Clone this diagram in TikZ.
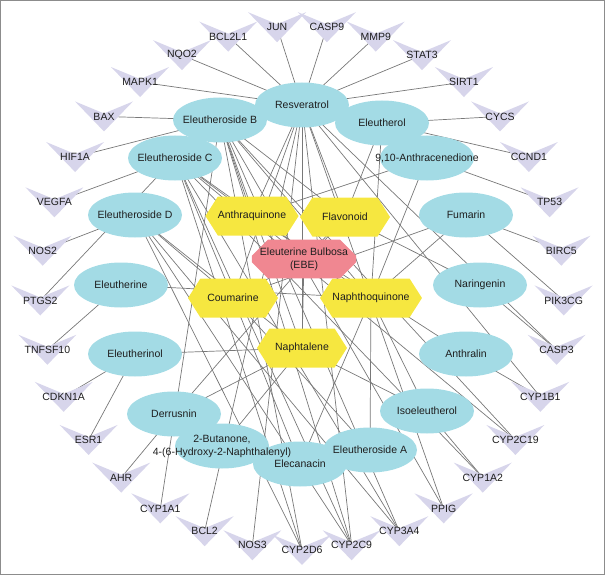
\documentclass[tikz,border=0pt]{standalone}
\usepackage{fontspec}
\setmainfont{Liberation Sans}
\usetikzlibrary{shapes.geometric,shapes.symbols,shapes.misc,calc}
\definecolor{cpd}{RGB}{163,219,229}
\definecolor{cls}{RGB}{246,231,64}
\definecolor{ebe}{RGB}{240,135,145}
\definecolor{tgt}{RGB}{215,213,235}
\definecolor{edgec}{RGB}{120,120,120}
\definecolor{txt}{RGB}{30,30,30}
\definecolor{framec}{RGB}{140,140,140}
\pgfdeclarelayer{bg}
\pgfsetlayers{bg,main}
\tikzset{
  lbl/.style={text=txt, font=\fontsize{10.5}{13}\selectfont, align=center},
  cpdnode/.style={ellipse, fill=cpd, minimum width=94pt, minimum height=45pt, inner sep=0pt,
    label={[lbl, inner sep=0pt]center:#1}},
  clsnode/.style={lbl, signal, signal to=east and west, signal pointer angle=115, fill=cls, minimum width=90pt, minimum height=39pt, inner sep=0pt},
  ebenode/.style={lbl, chamfered rectangle, chamfered rectangle xsep=8pt, chamfered rectangle ysep=8pt, fill=ebe, minimum width=95pt, minimum height=30pt, inner sep=0pt},
  tgtlabel/.style={lbl, inner sep=0pt},
  link/.style={draw=edgec, line width=0.7pt},
}
\begin{document}
\begin{tikzpicture}[x=1pt,y=-1pt]
\useasboundingbox (0,0) rectangle (605,575);
\draw[framec, line width=1pt] (0.5,0.5) rectangle (604.5,574.5);

% targets on the outer ring
\foreach \i/\n in {0/CASP9,1/MMP9,2/STAT3,3/SIRT1,4/CYCS,5/CCND1,6/TP53,7/BIRC5,8/PIK3CG,9/CASP3,10/CYP1B1,11/CYP2C19,12/CYP1A2,13/PPIG,14/CYP3A4,15/CYP2C9,16/CYP2D6,17/NOS3,18/BCL2,19/CYP1A1,20/AHR,21/ESR1,22/CDKN1A,23/TNFSF10,24/PTGS2,25/NOS2,26/VEGFA,27/HIF1A,28/BAX,29/MAPK1,30/NQO2,31/BCL2L1,32/JUN}{
  \pgfmathsetmacro\ang{-84.54545+\i*10.909091}
  \coordinate (p) at ($(302,288)+(\ang:262)$);
  \fill[tgt] ($(p)+(-29,-15)$) -- ($(p)+(0,-3)$) -- ($(p)+(29,-15)$) -- ($(p)+(0,15)$) -- cycle;
  \node[tgtlabel] (\n) at (p) {\n};
}

% compounds
\node[cpdnode={Resveratrol}] (Resv) at (302,105) {};
\node[cpdnode={Eleutheroside B}] (EleB) at (220,120) {};
\node[cpdnode={Eleutherol}] (Eleol) at (382,123) {};
\node[cpdnode={Eleutheroside C}] (EleC) at (175,158) {};
\node[cpdnode={9,10-Anthracenedione}] (Anth910) at (427,158) {};
\node[cpdnode={Eleutheroside D}] (EleD) at (135,215) {};
\node[cpdnode={Fumarin}] (Fum) at (466,215) {};
\node[cpdnode={Eleutherine}] (Eleine) at (121,285) {};
\node[cpdnode={Naringenin}] (Nar) at (480,285) {};
\node[cpdnode={Eleutherinol}] (Eleinol) at (135,354) {};
\node[cpdnode={Anthralin}] (Anthr) at (466,354) {};
\node[cpdnode={Derrusnin}] (Derr) at (174,414) {};
\node[cpdnode={Isoeleutherol}] (Isoel) at (427,411) {};
\node[cpdnode={Elecanacin}] (Elec) at (300,464) {};
\node[cpdnode={Eleutheroside A}] (EleA) at (370,450) {};
\node[cpdnode={{2-Butanone,\\4-(6-Hydroxy-2-Naphthalenyl)}}] (Buta) at (222,446) {};

% classes
\node[clsnode] (Aq) at (252,216) {Anthraquinone};
\node[clsnode] (Flav) at (345,217) {Flavonoid};
\node[clsnode] (Coum) at (233,298) {Coumarine};
\node[clsnode] (Nq) at (371,298) {Naphthoquinone};
\node[clsnode] (Naph) at (302,348) {Naphtalene};
\node[ebenode] (EBE) at (304,259) {Eleuterine Bulbosa\\(EBE)};

\begin{pgfonlayer}{bg}
\foreach \a/\b in {EBE/Aq,EBE/Flav,EBE/Coum,EBE/Nq,EBE/Naph,
  Aq/Anth910,Aq/Anthr,Aq/EleB,Aq/EleC,Aq/Resv,
  Flav/Nar,Flav/Resv,Flav/Derr,Flav/EleB,Flav/Eleol,
  Coum/Fum,Coum/EleD,Coum/EleC,Coum/Resv,Coum/Elec,Coum/EleA,
  Nq/Eleine,Nq/Eleol,Nq/Isoel,Nq/Elec,Nq/EleA,Nq/EleB,Nq/Anth910,Nq/Fum,Nq/EleC,
  Naph/Eleinol,Naph/Buta,Naph/Isoel,Naph/EleD,Naph/Resv,Naph/Derr,Naph/EleB,
  Resv/JUN,Resv/CASP9,Resv/MMP9,Resv/STAT3,Resv/SIRT1,Resv/BCL2L1,Resv/NQO2,Resv/MAPK1,
  Resv/BCL2,Resv/NOS3,Resv/CYP1B1,Resv/CYP2C9,Resv/PPIG,Resv/CASP3,
  EleB/BAX,EleB/HIF1A,EleB/CYP1A1,EleB/CYP2D6,EleB/CYP2C9,EleB/CYP3A4,EleB/PPIG,EleB/CYP2C19,
  Eleol/CYCS,Eleol/CCND1,Anth910/TP53,
  EleC/VEGFA,EleC/PTGS2,EleC/CYP2D6,EleC/CYP2C9,EleC/CYP3A4,EleC/CYP1A2,EleC/CYP2C19,
  EleD/NOS2,EleD/CYP2D6,EleD/CYP2C9,EleD/CYP3A4,
  Fum/BIRC5,Fum/PIK3CG,Nar/CASP3,Anthr/CYP1B1,Eleine/TNFSF10,Eleinol/CDKN1A,Eleinol/ESR1,
  Derr/AHR,Isoel/CYP1A2}
  \draw[link] (\a.center) -- (\b.center);
\end{pgfonlayer}
\end{tikzpicture}
\end{document}
